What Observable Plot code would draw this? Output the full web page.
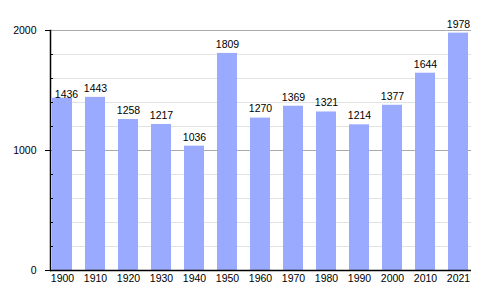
<!DOCTYPE html>
<html>
<head>
<meta charset="utf-8">
<script src="https://cdn.jsdelivr.net/npm/d3@7"></script>
<script src="https://cdn.jsdelivr.net/npm/@observablehq/plot@0.6"></script>
<style>
  html, body { margin: 0; padding: 0; background: #fff; }
</style>
</head>
<body>
<div id="chart"></div>
<script>
const years = ["1900","1910","1920","1930","1940","1950","1960","1970","1980","1990","2000","2010","2021"];
const population = [1436,1443,1258,1217,1036,1809,1270,1369,1321,1214,1377,1644,1978];
const majorTicks = [0,1000,2000];
const minorTicks = [200,400,600,800,1200,1400,1600,1800];

const data = years.map((year, i) => ({year, pop: population[i]}));
const W = 500, H = 300, mL = 50, mR = 29;

const chart = Plot.plot({
  width: W, height: H,
  marginLeft: mL, marginRight: mR, marginTop: 30, marginBottom: 30,
  style: {fontFamily: "'Liberation Sans', Arial, sans-serif", fontSize: "10.5px", color: "#000", background: "#fff"},
  x: {domain: years, paddingInner: 0.38, paddingOuter: 0, axis: null, label: null},
  y: {domain: [0, 2000], axis: null, label: null},
  marks: [
    Plot.ruleY(minorTicks, {stroke: "#e2e2e2", strokeWidth: 1}),
    Plot.ruleY([1000, 2000], {stroke: "#aaaaaa", strokeWidth: 1}),
    Plot.barY(data, {x: "year", y: "pop", fill: "#99aaff"}),
    Plot.text(data.slice(1), {x: "year", y: "pop", text: d => String(d.pop), dy: -9, fontSize: 10.5, fill: "#000"}),
    Plot.text(data.slice(0, 1), {x: "year", y: "pop", text: d => String(d.pop), dy: -4, dx: 4, fontSize: 10.5, fill: "#000"}),
    Plot.ruleY(minorTicks, {stroke: "#000", insetRight: W - mL - mR - 3}),
    Plot.axisY(majorTicks, {anchor: "left", label: null, tickSize: 5, tickPadding: 9, tickFormat: d => String(d), stroke: "#000", fill: "#000", fontSize: 10.5}),
    Plot.axisX({anchor: "bottom", label: null, tickSize: 0, tickPadding: 4, fill: "#000", fontSize: 10.5}),
    Plot.ruleY([0], {stroke: "#000", strokeWidth: 1.5}),
    Plot.frame({anchor: "left", stroke: "#000", strokeWidth: 1.5})
  ]
});
document.getElementById("chart").appendChild(chart);
</script>
</body>
</html>
